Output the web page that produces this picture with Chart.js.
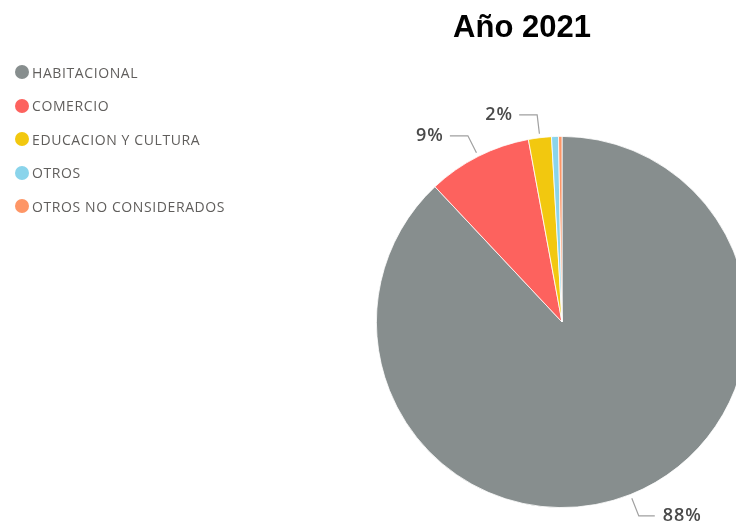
<!DOCTYPE html>
<html>
<head>
<meta charset="utf-8">
<script src="https://cdn.jsdelivr.net/npm/chart.js@4"></script>
<style>
  html, body { margin: 0; padding: 0; background: #fff; }
  #wrap { position: relative; width: 736px; height: 523px; overflow: hidden; }
  #titulo {
    position: absolute; left: 0; width: 1044px; top: 9px; text-align: center;
    font-family: "Liberation Sans", Arial, sans-serif; font-weight: bold; font-size: 31px; color: #000;
  }
  #leyenda { position: absolute; left: 15px; top: 61px; font-family: "Open Sans", sans-serif; font-size: 14px; letter-spacing: 0.6px; color: #605E5C; }
  #leyenda div { display: flex; align-items: center; height: 22px; margin-bottom: 11.6px; }
  #leyenda span.dot { width: 14px; height: 14px; border-radius: 50%; margin-right: 3px; display: inline-block; }
  canvas { position: absolute; left: 0; top: 0; }
</style>
</head>
<body>
<div id="wrap">
  <canvas id="pastel" width="760" height="523"></canvas>
  <div id="titulo">Año 2021</div>
  <div id="leyenda"></div>
</div>
<script>
const categorias = ["HABITACIONAL", "COMERCIO", "EDUCACION Y CULTURA", "OTROS", "OTROS NO CONSIDERADOS"];
const porcentajes = [88.0, 9.1, 2.0, 0.6, 0.3];
const colores = ["#878E8E", "#FD625E", "#F2C80F", "#8AD4EB", "#FE9666"];

// leyenda en html
document.getElementById("leyenda").innerHTML = categorias
  .map((c, i) => `<div><span class="dot" style="background:${colores[i]}"></span>${c}</div>`)
  .join("");

// etiquetas con linea guia, solo para porciones visibles
const etiquetasPlugin = {
  id: "etiquetas",
  afterDatasetsDraw(chart) {
    const ctx = chart.ctx;
    const meta = chart.getDatasetMeta(0);
    ctx.save();
    ctx.font = "600 18px 'Open Sans', sans-serif";
    ctx.letterSpacing = "1px";
    ctx.strokeStyle = "#a0a0a0";
    ctx.lineWidth = 1.2;
    ctx.fillStyle = "#4a4a4a";
    ctx.textBaseline = "middle";
    meta.data.forEach((arc, i) => {
      if (porcentajes[i] < 1) return;
      const a = (arc.startAngle + arc.endAngle) / 2;
      const r = arc.outerRadius;
      const x0 = arc.x + Math.cos(a) * (r + 4);
      const y0 = arc.y + Math.sin(a) * (r + 4);
      const x1 = arc.x + Math.cos(a) * (r + 23);
      const y1 = arc.y + Math.sin(a) * (r + 23);
      const derecha = Math.cos(a) >= 0;
      const x2 = x1 + (derecha ? 16 : -18);
      ctx.beginPath();
      ctx.moveTo(x0, y0);
      ctx.lineTo(x1, y1);
      ctx.lineTo(x2, y1);
      ctx.stroke();
      ctx.textAlign = derecha ? "left" : "right";
      ctx.fillText(Math.round(porcentajes[i]) + "%", x2 + (derecha ? 8 : -6), y1);
    });
    ctx.restore();
  }
};

new Chart(document.getElementById("pastel"), {
  type: "pie",
  data: {
    labels: categorias,
    datasets: [{
      data: porcentajes,
      backgroundColor: colores,
      borderColor: "#fff",
      borderWidth: 0.8
    }]
  },
  options: {
    responsive: false,
    animation: false,
    layout: { padding: { left: 376, top: 136, right: 12, bottom: 15 } },
    plugins: {
      legend: { display: false },
      tooltip: { enabled: false }
    }
  },
  plugins: [etiquetasPlugin]
});
</script>
</body>
</html>
